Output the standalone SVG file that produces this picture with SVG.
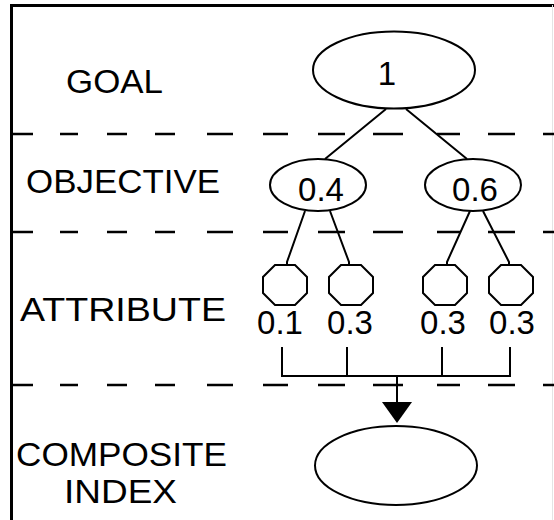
<svg xmlns="http://www.w3.org/2000/svg" xmlns:xlink="http://www.w3.org/1999/xlink" width="554" height="520" viewBox="0 0 554 520">
<style>
.lbl{font-family:"Liberation Sans",Arial,sans-serif;font-size:34px;fill:#000}
.lbl2{font-family:"Liberation Sans",Arial,sans-serif;font-size:33px;fill:#000}
.num{font-family:"Liberation Sans",Arial,sans-serif;font-size:33px;fill:#000}
.shape{fill:none;stroke:#000;stroke-width:2}
.con{fill:none;stroke:#000;stroke-width:2}
.dash{fill:none;stroke:#000;stroke-width:2.5}
.frame{fill:none;stroke:#000;stroke-width:3}
</style>
<defs>
<path id="dashrow" class="dash" d="M12 0H33M60 0H78M107 0H127M155 0H175M207 0H233M263 0H288M318 0H345M373 0H403M437 0H460M488 0H515M543 0H554"/>
<polygon id="oct" points="-10,-20 10,-20 22,-8 22,8 10,20 -10,20 -22,8 -22,-8"/>
</defs>
<rect width="554" height="520" fill="#fff"/>
<g id="frame">
<path class="frame" d="M554 5.5H11.5V520"/>
<path d="M552.5 5V520" stroke="#e4e4e4" stroke-width="1" fill="none"/>
</g>
<g id="separators">
<use xlink:href="#dashrow" y="134"/>
<use xlink:href="#dashrow" y="232"/>
<use xlink:href="#dashrow" y="385"/>
</g>
<g id="row-labels">
<text class="lbl" x="66" y="93" textLength="97" lengthAdjust="spacingAndGlyphs">GOAL</text>
<text class="lbl" x="26" y="193" textLength="194" lengthAdjust="spacingAndGlyphs">OBJECTIVE</text>
<text class="lbl" x="20" y="321" textLength="206" lengthAdjust="spacingAndGlyphs">ATTRIBUTE</text>
<text class="lbl2" x="16" y="465.5" textLength="211" lengthAdjust="spacingAndGlyphs">COMPOSITE</text>
<text class="lbl2" x="64" y="503" textLength="113" lengthAdjust="spacingAndGlyphs">INDEX</text>
</g>
<g id="connectors">
<path class="con" d="M386 109L325 159M406 109L467 159"/>
<path class="con" d="M305 211L287 262V265M330 211L349 262V265M470 211L447 262V265M483 211L509 262V265"/>
<path class="con" d="M282 347V376H510V347M347 347V376M442 347V376M397 376V404"/>
<polygon points="382,402 412,402 397,423" fill="#000"/>
</g>
<g id="goal">
<ellipse class="shape" cx="394" cy="70" rx="81" ry="38.5"/>
<text class="num" x="387" y="85" text-anchor="middle">1</text>
</g>
<g id="objective-1">
<ellipse class="shape" cx="318" cy="185" rx="48" ry="26"/>
<text class="num" x="321" y="201" text-anchor="middle">0.4</text>
</g>
<g id="objective-2">
<ellipse class="shape" cx="473" cy="185" rx="48" ry="26"/>
<text class="num" x="475" y="201" text-anchor="middle">0.6</text>
</g>
<g id="attribute-1">
<use xlink:href="#oct" class="shape" x="285" y="285"/>
<text class="num" x="280" y="334" text-anchor="middle">0.1</text>
</g>
<g id="attribute-2">
<use xlink:href="#oct" class="shape" x="351" y="285"/>
<text class="num" x="350" y="334" text-anchor="middle">0.3</text>
</g>
<g id="attribute-3">
<use xlink:href="#oct" class="shape" x="445" y="285"/>
<text class="num" x="443" y="334" text-anchor="middle">0.3</text>
</g>
<g id="attribute-4">
<use xlink:href="#oct" class="shape" x="511" y="285"/>
<text class="num" x="512" y="334" text-anchor="middle">0.3</text>
</g>
<g id="composite">
<ellipse class="shape" cx="396" cy="465.5" rx="81" ry="39.5"/>
</g>
</svg>
